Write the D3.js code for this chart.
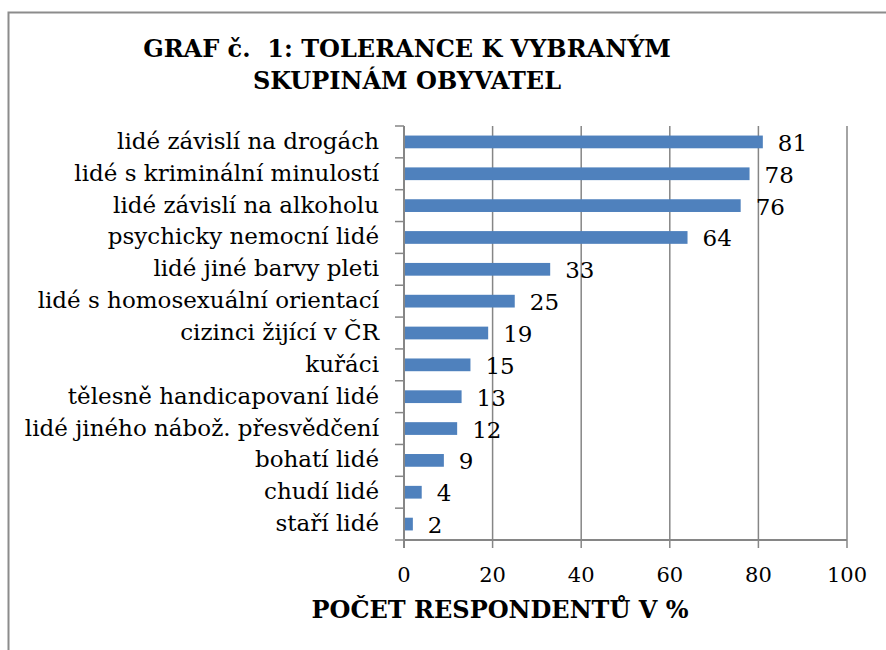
<!DOCTYPE html>
<html>
<head>
<meta charset="utf-8">
<script src="https://cdn.jsdelivr.net/npm/d3@7"></script>
<style>
  body { margin: 0; background: #fff; }
  text { font-family: 'DejaVu Serif', Georgia, serif; fill: #000; }
</style>
</head>
<body>
<div id="chart"></div>
<script>
// data
var categories = [
    "lidé závislí na drogách",
    "lidé s kriminální minulostí",
    "lidé závislí na alkoholu",
    "psychicky nemocní lidé",
    "lidé jiné barvy pleti",
    "lidé s homosexuální orientací",
    "cizinci žijící v ČR",
    "kuřáci",
    "tělesně handicapovaní lidé",
    "lidé jiného nábož. přesvědčení",
    "bohatí lidé",
    "chudí lidé",
    "staří lidé"
];
var values = [81, 78, 76, 64, 33, 25, 19, 15, 13, 12, 9, 4, 2];
var xTicks = [0, 20, 40, 60, 80, 100];
var titleLines = ["GRAF č.  1: TOLERANCE K VYBRANÝM", "SKUPINÁM OBYVATEL"];
var axisTitle = "POČET RESPONDENTŮ V %";

var width = 886,
    height = 650;
// note: "top" is taken by window.top, so prefix these
var plotLeft = 404, plotRight = 847, plotTop = 126, plotBottom = 540;
var gridColor = "#868686";
var barColor = "#4f81bd";

var svg = d3.select("#chart").append("svg")
    .attr("width", width)
    .attr("height", height);

// chart area border (only left and top edges show in the frame)
svg.append("rect")
    .attr("x", 8.5)
    .attr("y", 12.5)
    .attr("width", 1000)
    .attr("height", 1000)
    .attr("fill", "none")
    .attr("stroke", "#8c8c8c")
    .attr("stroke-width", 2);

var x = d3.scaleLinear()
    .domain([0, 100])
    .range([plotLeft, plotRight]);

var y = d3.scaleBand()
    .domain(categories)
    .range([plotTop, plotBottom])
    .paddingInner(0.6)
    .paddingOuter(0.3);

// plain band scale for the category tick marks
var yCat = d3.scaleBand()
    .domain(categories)
    .range([plotTop, plotBottom]);

// vertical gridlines, running past the axis as tick marks
svg.selectAll(".grid")
    .data(xTicks)
    .enter().append("line")
    .attr("class", "grid")
    .attr("x1", function(d) { return x(d); })
    .attr("x2", function(d) { return x(d); })
    .attr("y1", plotTop)
    .attr("y2", plotBottom + 8)
    .attr("stroke", gridColor)
    .attr("stroke-width", 1.5);

// category axis ticks at the band edges
var edges = categories.map(function(c) { return yCat(c); }).concat([plotBottom]);
svg.selectAll(".ytick")
    .data(edges)
    .enter().append("line")
    .attr("class", "ytick")
    .attr("x1", plotLeft - 9)
    .attr("x2", plotLeft)
    .attr("y1", function(d) { return d; })
    .attr("y2", function(d) { return d; })
    .attr("stroke", gridColor)
    .attr("stroke-width", 1.5);

// axis lines
svg.append("line")
    .attr("x1", plotLeft).attr("x2", plotLeft)
    .attr("y1", plotTop).attr("y2", plotBottom + 8)
    .attr("stroke", gridColor)
    .attr("stroke-width", 2);
svg.append("line")
    .attr("x1", plotLeft).attr("x2", plotRight)
    .attr("y1", plotBottom).attr("y2", plotBottom)
    .attr("stroke", gridColor)
    .attr("stroke-width", 2);

// bars
svg.selectAll(".bar")
    .data(values)
    .enter().append("rect")
    .attr("class", "bar")
    .attr("x", x(0) + 1)
    .attr("y", function(d, i) { return y(categories[i]); })
    .attr("width", function(d) { return x(d) - x(0) - 1; })
    .attr("height", y.bandwidth())
    .attr("fill", barColor);

// value labels
svg.selectAll(".val")
    .data(values)
    .enter().append("text")
    .attr("class", "val")
    .attr("x", function(d) { return x(d) + 15; })
    .attr("y", function(d, i) { return y(categories[i]) + y.bandwidth() / 2 + 9; })
    .style("font-size", "23px")
    .text(function(d) { return d; });

// category labels
svg.selectAll(".cat")
    .data(categories)
    .enter().append("text")
    .attr("class", "cat")
    .attr("x", 379)
    .attr("y", function(d) { return yCat(d) + yCat.bandwidth() / 2 + 7; })
    .attr("text-anchor", "end")
    .style("font-size", "23px")
    .text(function(d) { return d; });

// x tick labels
svg.selectAll(".xlab")
    .data(xTicks)
    .enter().append("text")
    .attr("class", "xlab")
    .attr("x", function(d) { return x(d); })
    .attr("y", 582)
    .attr("text-anchor", "middle")
    .style("font-size", "21px")
    .text(function(d) { return d; });

// titles
svg.selectAll(".title")
    .data(titleLines)
    .enter().append("text")
    .attr("class", "title")
    .attr("x", 407)
    .attr("y", function(d, i) { return 57 + i * 32; })
    .attr("text-anchor", "middle")
    .style("font-size", "24px")
    .style("font-weight", "bold")
    .style("white-space", "pre")
    .text(function(d) { return d; });

svg.append("text")
    .attr("x", 500)
    .attr("y", 618)
    .attr("text-anchor", "middle")
    .style("font-size", "24px")
    .style("font-weight", "bold")
    .text(axisTitle);
</script>
</body>
</html>
